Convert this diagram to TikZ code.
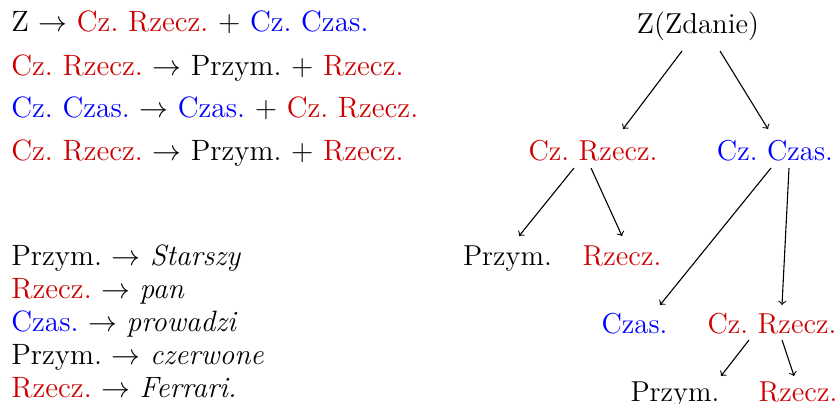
\documentclass[tikz,border=0pt]{standalone}
\usetikzlibrary{calc}
\definecolor{cred}{rgb}{0.8,0,0}
\definecolor{cblue}{rgb}{0,0,1}
\frenchspacing
\begin{document}
\begin{tikzpicture}[x=0.5pt,y=-0.5pt,
  txt/.style={anchor=base west,inner sep=0pt,font=\fontsize{14.7pt}{18pt}\selectfont},
  tn/.style={anchor=base,font=\Large},
  edge/.style={->,line width=0.55pt}]
\useasboundingbox (0,0) rectangle (838,403);
% rules
\node[txt] (r1) at (11,31) {Z $\rightarrow$ \textcolor{cred}{Cz. Rzecz.} + \textcolor{cblue}{Cz. Czas.}};
\node[txt] (r2) at (11,75) {\textcolor{cred}{Cz. Rzecz.} $\rightarrow$ Przym. + \textcolor{cred}{Rzecz.}};
\node[txt] (r3) at (11,117) {\textcolor{cblue}{Cz. Czas.} $\rightarrow$ \textcolor{cblue}{Czas.} + \textcolor{cred}{Cz. Rzecz.}};
\node[txt] (r4) at (11,160) {\textcolor{cred}{Cz. Rzecz.} $\rightarrow$ Przym. + \textcolor{cred}{Rzecz.}};
% lexicon
\node[txt] (l1) at (11,265) {Przym. $\rightarrow$ \textit{Starszy}};
\node[txt] (l2) at (11,298) {\textcolor{cred}{Rzecz.} $\rightarrow$ \textit{pan}};
\node[txt] (l3) at (11,331) {\textcolor{cblue}{Czas.} $\rightarrow$ \textit{prowadzi}};
\node[txt] (l4) at (11,364) {Przym. $\rightarrow$ \textit{czerwone}};
\node[txt] (l5) at (11,397) {\textcolor{cred}{Rzecz.} $\rightarrow$ \textit{Ferrari.}};
% tree
\node[tn] (z) at (698,33) {Z(Zdanie)};
\node[tn,text=cred] (cr) at (593,160) {Cz. Rzecz.};
\node[tn,text=cblue] (cc) at (775,160) {Cz. Czas.};
\node[tn] (p1) at (507.5,265) {Przym.};
\node[tn,text=cred] (rz1) at (622,265) {Rzecz.};
\node[tn,text=cblue] (cz) at (634.5,333) {Czas.};
\node[tn,text=cred] (cr2) at (772,333) {Cz. Rzecz.};
\node[tn] (p2) at (675,401) {Przym.};
\node[tn,text=cred] (rz2) at (798,401) {Rzecz.};
% edges
\draw[edge] ($(z.base)+(-16,18)$) -- ($(cr.base)+(30,-31)$);
\draw[edge] ($(z.base)+(22,18)$) -- ($(cc.base)+(-7,-31)$);
\draw[edge] ($(cr.base)+(-19,8)$) -- ($(p1.base)+(11.5,-29)$);
\draw[edge] ($(cr.base)+(-2,8)$) -- ($(rz1.base)+(0,-29)$);
\draw[edge] ($(cc.base)+(-4,8)$) -- ($(cz.base)+(25.5,-28)$);
\draw[edge] ($(cc.base)+(14,8)$) -- ($(cr2.base)+(10,-28)$);
\draw[edge] ($(cr2.base)+(-23,7)$) -- ($(p2.base)+(46,-25)$);
\draw[edge] ($(cr2.base)+(10,7)$) -- ($(rz2.base)+(-4,-25)$);
\end{tikzpicture}
\end{document}
